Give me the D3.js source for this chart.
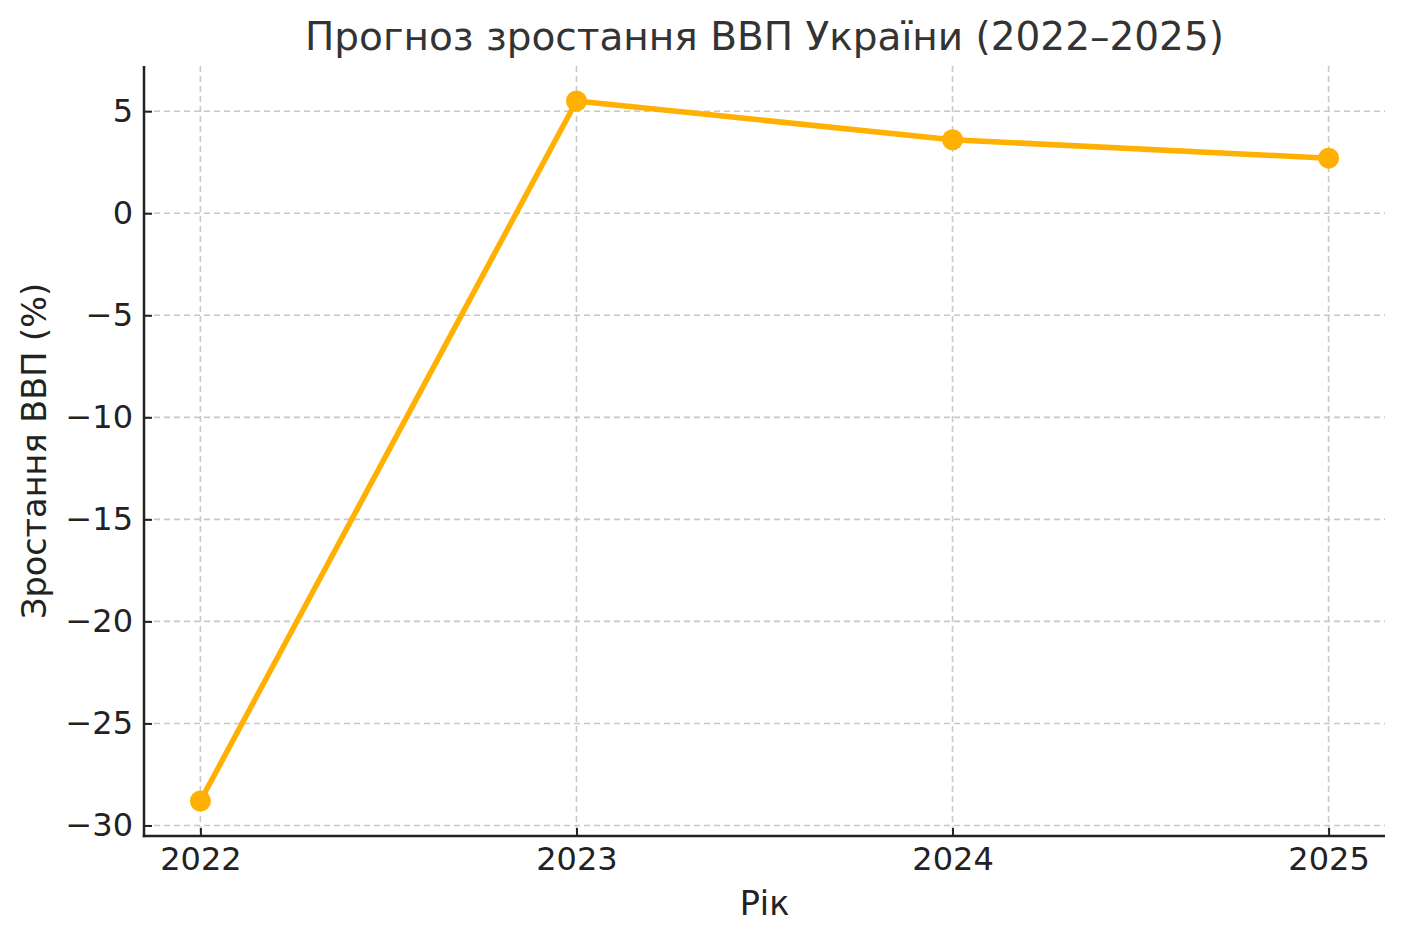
<!DOCTYPE html>
<html>
<head>
<meta charset="utf-8">
<script src="https://cdn.jsdelivr.net/npm/d3@7"></script>
<style>
  body { margin: 0; background: #fff; }
  text { font-family: "DejaVu Sans", sans-serif; }
</style>
</head>
<body>
<div id="chart"></div>
<script>
// data
const years = [2022, 2023, 2024, 2025]
const growth = [-28.8, 5.5, 3.6, 2.7]
const yTicks = [-30, -25, -20, -15, -10, -5, 0, 5]

const W = 1404, H = 943
const m = {left: 144, right: 1385, top: 66, bottom: 836}

let svg = d3.select("#chart").append("svg")
    .attr("width", W)
    .attr("height", H)

let x = d3.scaleLinear().domain([2021.85, 2025.15]).range([m.left, m.right])
let y = d3.scaleLinear().domain([-30.515, 7.215]).range([m.bottom, m.top])

// grid
let grid = svg.append("g")
grid.selectAll(".gx").data(years).enter().append("line")
    .attr("x1", d => x(d)).attr("x2", d => x(d))
    .attr("y1", m.top).attr("y2", m.bottom)
    .attr("stroke", "#c8c8c8").attr("stroke-width", 1.6)
    .attr("stroke-dasharray", "6,4")
grid.selectAll(".gy").data(yTicks).enter().append("line")
    .attr("x1", m.left).attr("x2", m.right)
    .attr("y1", d => y(d)).attr("y2", d => y(d))
    .attr("stroke", "#c8c8c8").attr("stroke-width", 1.6)
    .attr("stroke-dasharray", "6,4")

// axes (ticks point inward)
let xAxis = d3.axisBottom(x).tickValues(years).tickFormat(d3.format("d")).tickSize(-8).tickPadding(11)
let yAxis = d3.axisLeft(y).tickValues(yTicks).tickFormat(d => d < 0 ? "\u2212" + Math.abs(d) : d).tickSize(-8).tickPadding(11)

let gx = svg.append("g").attr("transform", `translate(0,${m.bottom})`).call(xAxis)
let gy = svg.append("g").attr("transform", `translate(${m.left},0)`).call(yAxis)

;[gx, gy].forEach(g => {
    g.select(".domain").remove()
    g.selectAll(".tick line").attr("stroke", "#222").attr("stroke-width", 2)
    g.selectAll(".tick text").attr("fill", "#222").style("font-size", "32px")
})

// spines
svg.append("line").attr("x1", m.left).attr("x2", m.left).attr("y1", m.top).attr("y2", m.bottom + 1.25)
    .attr("stroke", "#222").attr("stroke-width", 2.5)
svg.append("line").attr("x1", m.left - 1.25).attr("x2", m.right).attr("y1", m.bottom).attr("y2", m.bottom)
    .attr("stroke", "#222").attr("stroke-width", 2.5)

// line + markers
let pts = years.map((yr, i) => [yr, growth[i]])
svg.append("path")
    .datum(pts)
    .attr("fill", "none")
    .attr("stroke", "#FFB000")
    .attr("stroke-width", 5.5)
    .attr("stroke-linejoin", "round")
    .attr("d", d3.line().x(d => x(d[0])).y(d => y(d[1])))
svg.selectAll(".dot").data(pts).enter().append("circle")
    .attr("cx", d => x(d[0])).attr("cy", d => y(d[1]))
    .attr("r", 10.5).attr("fill", "#FFB000")

// labels
svg.append("text").attr("x", (m.left + m.right) / 2).attr("y", 50)
    .attr("text-anchor", "middle").attr("fill", "#333").style("font-size", "39px")
    .text("Прогноз зростання ВВП України (2022–2025)")
svg.append("text").attr("x", (m.left + m.right) / 2).attr("y", 915)
    .attr("text-anchor", "middle").attr("fill", "#222").style("font-size", "33.5px")
    .text("Рік")
svg.append("text").attr("transform", `translate(46,${(m.top + m.bottom) / 2}) rotate(-90)`)
    .attr("text-anchor", "middle").attr("fill", "#222").style("font-size", "33.5px")
    .text("Зростання ВВП (%)")
</script>
</body>
</html>
